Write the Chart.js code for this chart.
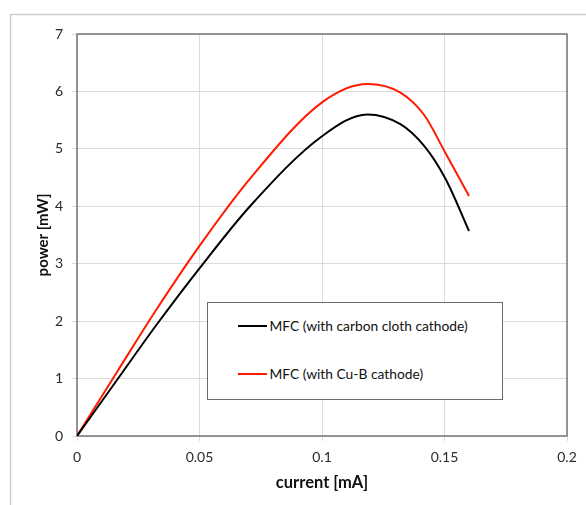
<!DOCTYPE html>
<html>
<head>
<meta charset="utf-8">
<script src="https://cdn.jsdelivr.net/npm/chart.js@4.4.1/dist/chart.umd.min.js"></script>
<style>
  html, body { margin: 0; padding: 0; background: #fff; }
  #wrap { position: relative; width: 586px; height: 505px; }
  #legendBox {
    position: absolute; left: 207px; top: 302px; width: 296px; height: 98px;
    border: 1.5px solid #6b6b6b; background: #fff; box-sizing: border-box;
    font-family: Lato, sans-serif; font-size: 13.8px; color: #111;
  }
  .item { position: absolute; left: 29.5px; height: 16px; display: flex; align-items: center; white-space: nowrap; }
  .swatch { width: 29px; height: 2px; margin-right: 3px; }
</style>
</head>
<body>
<div id="wrap">
  <canvas id="powerChart" width="586" height="505"></canvas>
  <div id="legendBox"></div>
</div>
<script>
// 数据
const current = [0, 0.0164, 0.0327, 0.05, 0.0708, 0.1, 0.1185, 0.132, 0.1417, 0.1505, 0.16];
const carbonCloth = [0, 0.98, 1.95, 2.92, 4.01, 5.22, 5.60, 5.43, 5.05, 4.47, 3.57];
const cuB = [0, 1.12, 2.22, 3.31, 4.49, 5.81, 6.13, 5.98, 5.59, 4.92, 4.18];
const seriesLabels = ['MFC (with carbon cloth cathode)', 'MFC (with Cu-B cathode)'];
const xTickLabels = ['0', '0.05', '0.1', '0.15', '0.2'];
const yTickLabels = ['0', '1', '2', '3', '4', '5', '6', '7'];

const toPoints = ys => current.map((x, i) => ({ x: x, y: ys[i] }));

// 外框 + 绘图区边框
const framePlugin = {
  id: 'frame',
  beforeDraw(chart) {
    const ctx = chart.ctx;
    ctx.save();
    ctx.fillStyle = '#fff';
    ctx.fillRect(0, 0, chart.width, chart.height);
    ctx.strokeStyle = '#cfcfcf';
    ctx.lineWidth = 1.5;
    ctx.strokeRect(10.5, 14.5, 700, 700);
    ctx.restore();
  },
  beforeDatasetsDraw(chart) {
    const { ctx, chartArea: a } = chart;
    ctx.save();
    ctx.strokeStyle = '#767676';
    ctx.lineWidth = 1.5;
    ctx.strokeRect(a.left, a.top, a.right - a.left, a.bottom - a.top);
    ctx.restore();
  }
};

const ctx = document.getElementById('powerChart').getContext('2d');
const chart = new Chart(ctx, {
  type: 'line',
  data: {
    datasets: [
      { label: seriesLabels[0], data: toPoints(carbonCloth), borderColor: '#000000', borderWidth: 2, cubicInterpolationMode: 'monotone' },
      { label: seriesLabels[1], data: toPoints(cuB), borderColor: '#ff1a00', borderWidth: 2, cubicInterpolationMode: 'monotone' }
    ]
  },
  options: {
    responsive: false,
    animation: false,
    layout: { padding: { top: 34, right: 19, bottom: 0, left: 0 } },
    elements: { point: { radius: 0 } },
    plugins: { legend: { display: false }, tooltip: { enabled: false } },
    scales: {
      x: {
        type: 'linear', min: 0, max: 0.2,
        afterFit: s => { s.height = 69; },
        ticks: { stepSize: 0.05, padding: 8, color: '#2b2b2b', font: { family: 'Lato', size: 14 }, callback: (v, i) => xTickLabels[i] },
        grid: { color: '#dcdcdc', tickLength: 5 },
        border: { display: false },
        title: { display: true, text: 'current [mA]', color: '#111', font: { family: 'Lato', size: 16.5, weight: 'bold' }, padding: { top: 0, bottom: 12 } }
      },
      y: {
        min: 0, max: 7,
        afterFit: s => { s.width = 77; },
        ticks: { stepSize: 1, padding: 9, color: '#2b2b2b', font: { family: 'Lato', size: 14 }, callback: (v, i) => yTickLabels[i] },
        grid: { color: '#dcdcdc', tickLength: 5 },
        border: { display: false },
        title: { display: true, text: 'power [mW]', color: '#111', font: { family: 'Lato', size: 15, weight: 'bold' }, padding: { top: 34, bottom: 0 } }
      }
    }
  },
  plugins: [framePlugin]
});

// 图例（放在绘图区内的方框）
const itemTops = [14.5, 62.5];
document.getElementById('legendBox').innerHTML = chart.data.datasets.map((d, i) => `
  <div class="item" style="top:${itemTops[i]}px">
    <span class="swatch" style="background:${d.borderColor}"></span><span>${d.label}</span>
  </div>`).join('');
</script>
</body>
</html>
